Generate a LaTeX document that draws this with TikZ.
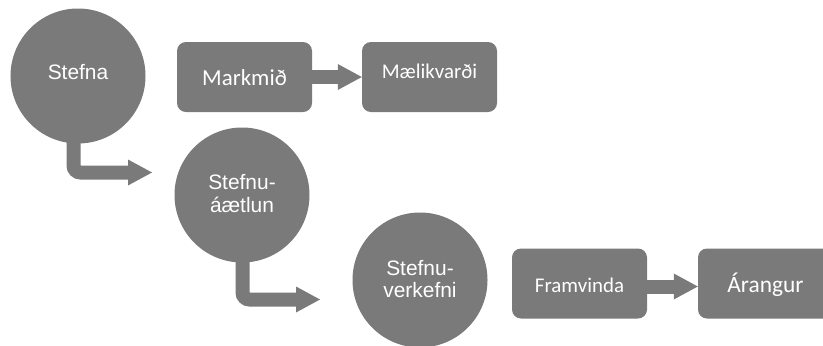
\documentclass[tikz,border=0pt]{standalone}
\usepackage{fontspec}
\usetikzlibrary{arrows.meta}
\newfontfamily\arialf{Liberation Sans}
\newfontfamily\calf{Carlito}
\definecolor{gr}{HTML}{7A7A7A}
\begin{document}
\begin{tikzpicture}[x=1bp,y=-1bp,
  circ/.style={circle, fill=gr, minimum size=135bp, inner sep=0pt},
  box/.style={rectangle, rounded corners=9bp, fill=gr, minimum width=135bp, minimum height=70bp, inner sep=0pt},
  ctext/.style={text=white, font=\arialf\fontsize{21}{23}\selectfont, align=center, inner sep=0pt},
  btext/.style={text=white, inner sep=0pt},
  conn/.style={draw=gr, line width=14bp, -{Triangle[width=26bp,length=24bp,line width=0pt]}},
]
\useasboundingbox (0,0) rectangle (823,345);
\clip (0,0) rectangle (823,345);
% circles
\node[circ, label={[ctext,yshift=3.7bp]center:Stefna}] (s1) at (78,76) {};
\node[circ, label={[ctext,yshift=1.5bp]center:{Stefnu-\\áætlun}}] (s2) at (242,195) {};
\node[circ, label={[ctext,yshift=1bp]center:{Stefnu-\\verkefni}}] (s3) at (420,280) {};
% boxes
\node[box, label={[btext,font=\calf\fontsize{23}{26}\selectfont,yshift=-1bp]center:Markmið}] (b1) at (244.5,77) {};
\node[box, label={[btext,font=\calf\fontsize{21}{24}\selectfont,yshift=5.3bp]center:Mælikvarði}] (b2) at (429.5,77) {};
\node[box, label={[btext,font=\calf\fontsize{21}{24}\selectfont,yshift=-2bp]center:Framvinda}] (b3) at (579.5,283.5) {};
\node[box, label={[btext,font=\calf\fontsize{23.5}{26}\selectfont,yshift=-1bp]center:Árangur}] (b4) at (765.5,283.5) {};
% connector end points
\coordinate (t1) at (152,172.5);
\coordinate (t2) at (320,299.5);
% connectors
\draw[conn] (b1.east) -- (b1.east -| b2.west);
\draw[conn] ([yshift=-3bp]b3.east) -- ([yshift=-3bp]b3.east -| b4.west);
\draw[conn, rounded corners=7bp] ([xshift=-4.5bp,yshift=6bp]s1.south) |- (t1);
\draw[conn, rounded corners=7bp] ([xshift=0.5bp,yshift=6bp]s2.south) |- (t2);
\end{tikzpicture}
\end{document}
